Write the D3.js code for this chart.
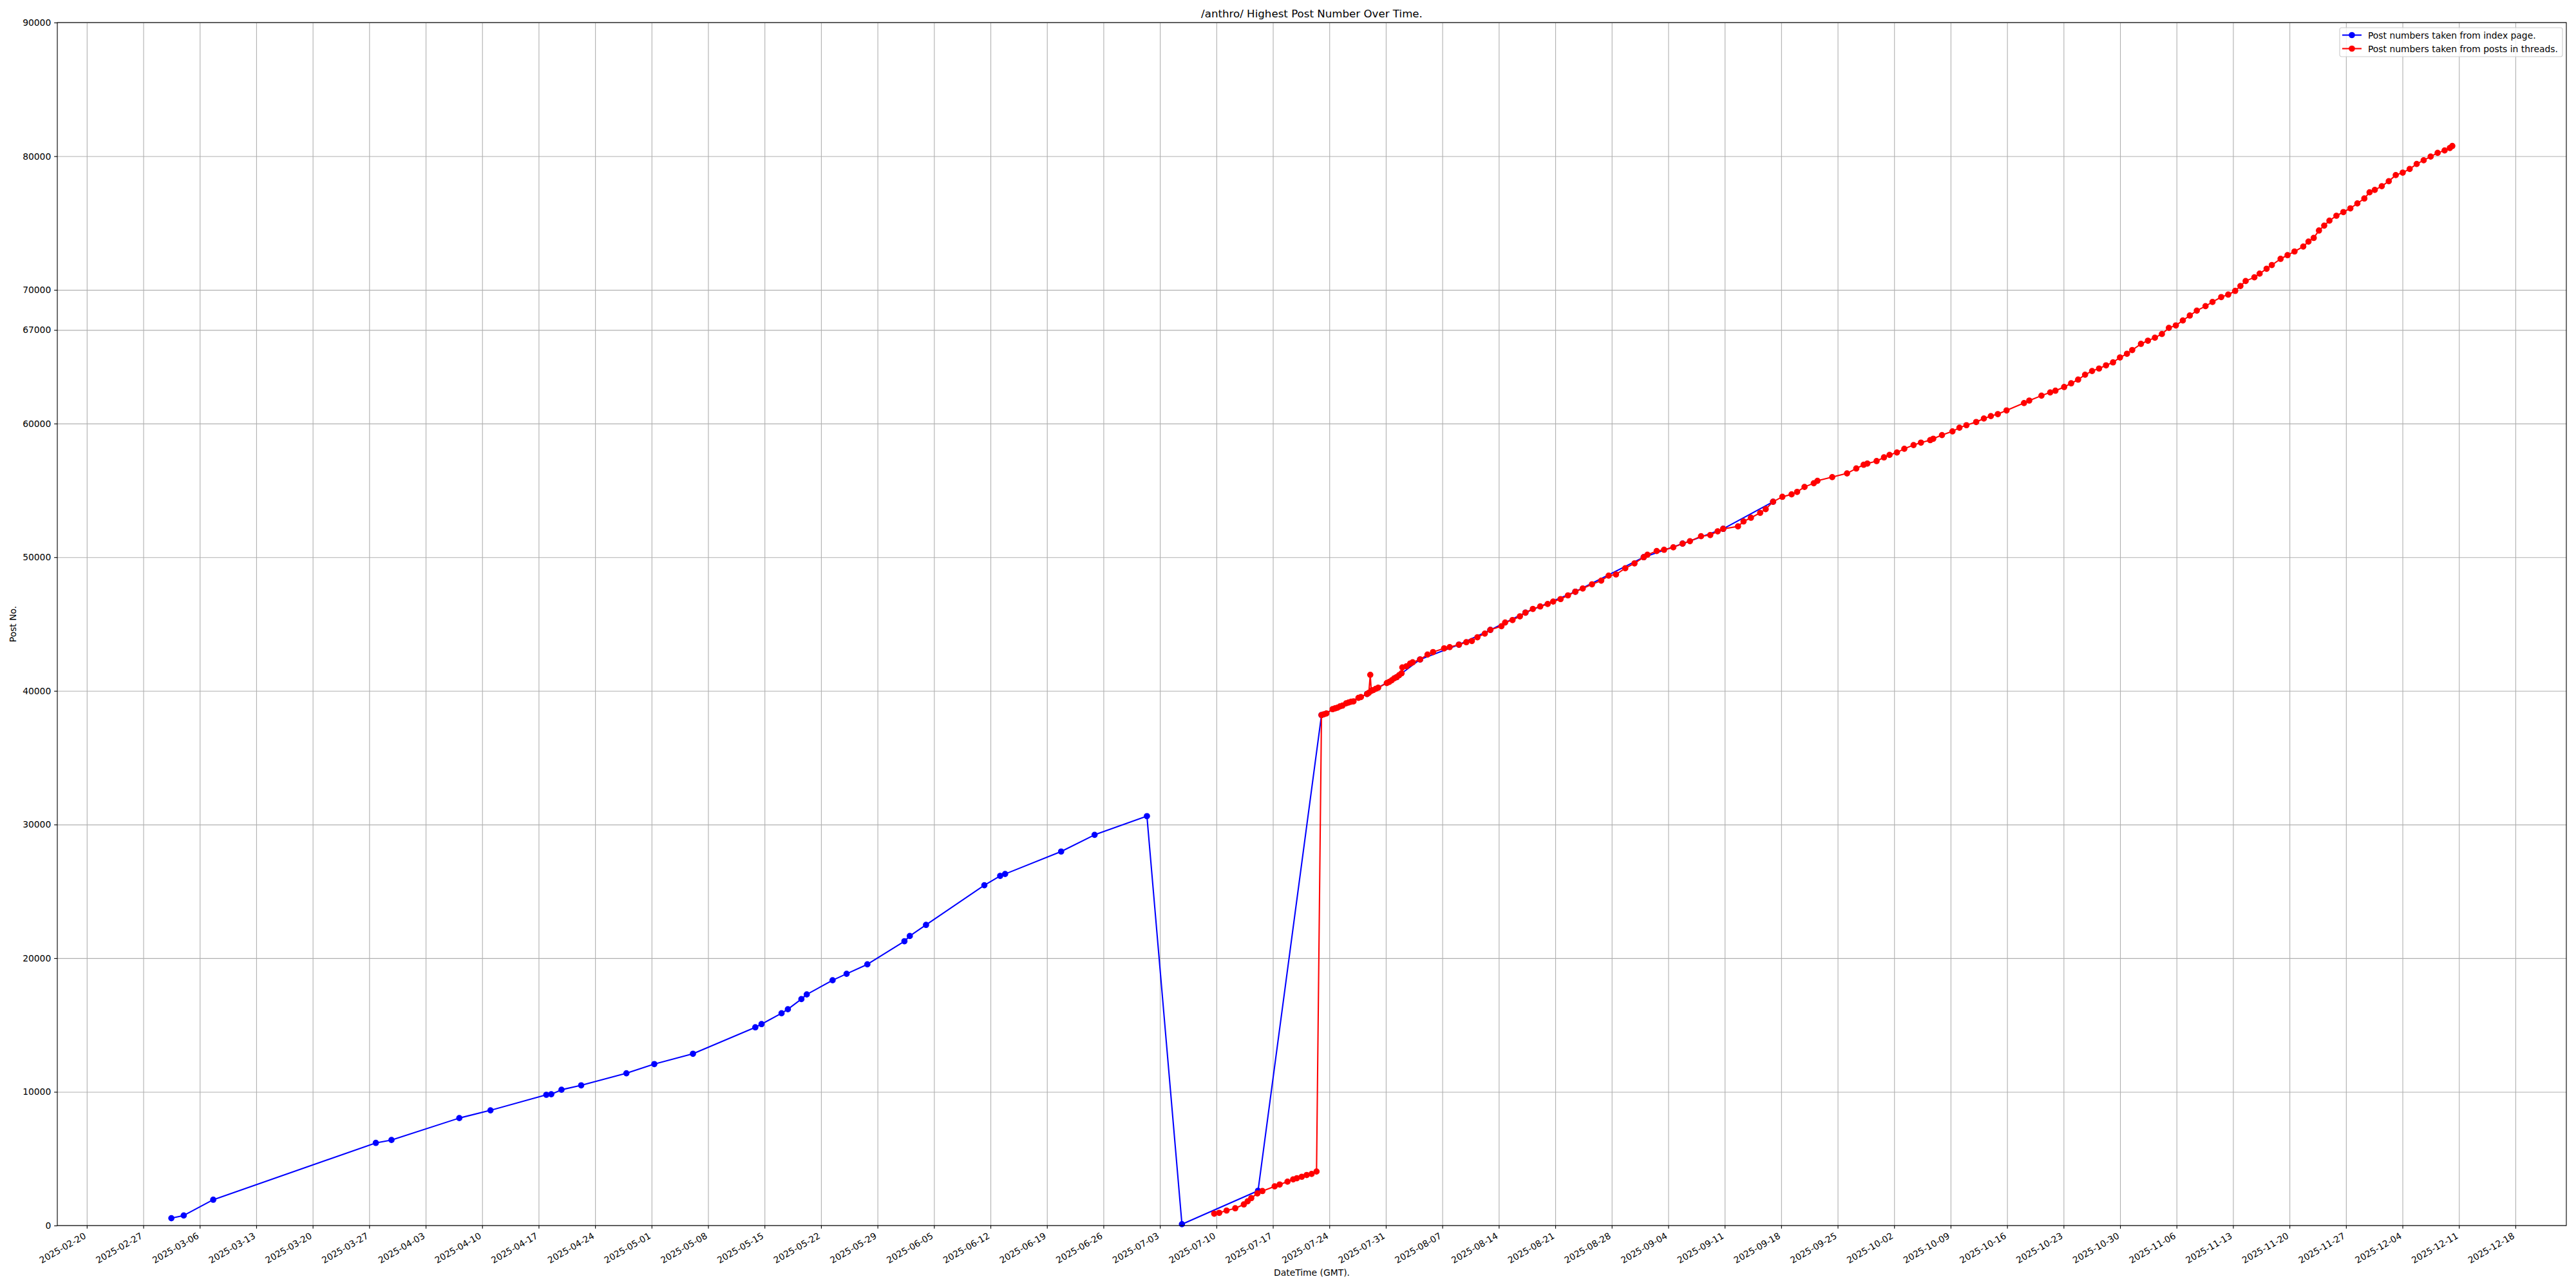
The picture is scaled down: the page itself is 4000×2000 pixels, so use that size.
<!doctype html>
<html lang="en">
  <head>
    <meta charset="utf-8" />
    <title>/anthro/ Highest Post Number Over Time.</title>
    <style>
      body { margin: 0; background: #fff; }
      text { font-family: "DejaVu Sans", sans-serif; fill: #000; }
    </style>
  </head>
  <body>
    <div id="chart"></div>
    <script src="https://cdn.jsdelivr.net/npm/d3@7"></script>
    <script>
// post numbers scraped from the index page
var blueDates = [
  "2025-03-02T11:30", "2025-03-04T00:15", "2025-03-07T16:00", "2025-03-27T19:40", "2025-03-29T18:15",
  "2025-04-07T04:00", "2025-04-11T00:45", "2025-04-17T22:50", "2025-04-18T13:30", "2025-04-19T20:00",
  "2025-04-22T06:30", "2025-04-27T21:00", "2025-05-01T08:00", "2025-05-06T03:00", "2025-05-13T20:30",
  "2025-05-14T15:00", "2025-05-17T02:30", "2025-05-17T21:20", "2025-05-19T13:30", "2025-05-20T05:30",
  "2025-05-23T10:20", "2025-05-25T04:00", "2025-05-27T17:45", "2025-06-01T08:00", "2025-06-02T00:00",
  "2025-06-04T00:15", "2025-06-11T05:45", "2025-06-13T04:50", "2025-06-13T19:30", "2025-06-20T18:10",
  "2025-06-24T21:40", "2025-07-01T09:20", "2025-07-05T17:30", "2025-07-15T03:50", "2025-07-23T00:36",
  "2025-07-28T16:10", "2025-08-01T08:07", "2025-08-04T05:57", "2025-08-09T01:25", "2025-08-12T22:51",
  "2025-08-17T07:18", "2025-08-23T11:43", "2025-08-31T23:07", "2025-09-05T18:33", "2025-09-10T19:29",
  "2025-09-16T23:56"
];
var blueValues = [
  550, 750, 1930, 6180, 6400,
  8040, 8620, 9780, 9820, 10160,
  10490, 11390, 12080, 12850, 14830,
  15070, 15880, 16180, 16940, 17290,
  18350, 18830, 19540, 21270, 21660,
  22490, 25460, 26160, 26300, 27980,
  29230, 30630, 100, 2600, 38193,
  39770, 41025, 42350, 43456, 44563,
  45853, 47420, 50001, 51015, 52121,
  54149
];

// post numbers taken from posts inside threads
var redDates = [
  "2025-07-09T17:30", "2025-07-10T08:25", "2025-07-11T06:15", "2025-07-12T08:00", "2025-07-13T09:35",
  "2025-07-13T20:50", "2025-07-14T07:40", "2025-07-15T01:55", "2025-07-15T16:50", "2025-07-17T05:15",
  "2025-07-17T20:10", "2025-07-18T19:25", "2025-07-19T12:15", "2025-07-19T23:20", "2025-07-20T13:55",
  "2025-07-21T04:35", "2025-07-21T19:10", "2025-07-22T09:50",
  "2025-07-23T00:36", "2025-07-23T07:55", "2025-07-23T15:14", "2025-07-24T09:34", "2025-07-24T16:54",
  "2025-07-25T00:13", "2025-07-25T07:34", "2025-07-25T14:53", "2025-07-26T01:52", "2025-07-26T09:12",
  "2025-07-26T16:32", "2025-07-26T23:51", "2025-07-27T14:31", "2025-07-27T21:50", "2025-07-28T16:10",
  "2025-07-28T21:19", "2025-07-29T01:42", "2025-07-29T04:38", "2025-07-29T10:29", "2025-07-29T17:50",
  "2025-07-30T01:09", "2025-07-31T02:48", "2025-07-31T10:08", "2025-07-31T17:27", "2025-08-01T00:48",
  "2025-08-01T08:07", "2025-08-01T15:27", "2025-08-01T22:47", "2025-08-02T00:58", "2025-08-02T13:26",
  "2025-08-03T00:26", "2025-08-03T07:45",
  "2025-08-04T05:57", "2025-08-05T03:56", "2025-08-05T20:25", "2025-08-07T05:25", "2025-08-07T21:55",
  "2025-08-09T01:25", "2025-08-09T23:20", "2025-08-10T15:53", "2025-08-11T08:23", "2025-08-12T06:22",
  "2025-08-12T22:51", "2025-08-14T07:50", "2025-08-14T18:50", "2025-08-15T16:49", "2025-08-16T14:48",
  "2025-08-17T07:18", "2025-08-18T05:17", "2025-08-19T03:16", "2025-08-20T01:16", "2025-08-20T17:46",
  "2025-08-21T15:45", "2025-08-22T13:44", "2025-08-23T11:43", "2025-08-24T09:43", "2025-08-25T13:12",
  "2025-08-26T16:41", "2025-08-27T14:40", "2025-08-28T12:39", "2025-08-29T16:09", "2025-08-30T19:38",
  "2025-08-31T23:07", "2025-09-01T10:06", "2025-09-02T13:36", "2025-09-03T11:35", "2025-09-04T15:04",
  "2025-09-05T18:33", "2025-09-06T16:32", "2025-09-08T01:32", "2025-09-09T05:01", "2025-09-10T03:00",
  "2025-09-10T19:29", "2025-09-12T15:29", "2025-09-13T07:58", "2025-09-14T05:57", "2025-09-15T09:26",
  "2025-09-16T01:55", "2025-09-16T23:56", "2025-09-18T03:24", "2025-09-19T06:53", "2025-09-19T23:23",
  "2025-09-20T21:22", "2025-09-22T00:50", "2025-09-22T11:50", "2025-09-24T07:49", "2025-09-26T03:48",
  "2025-09-27T07:16", "2025-09-28T05:17", "2025-09-28T16:16", "2025-09-29T19:45", "2025-09-30T17:44",
  "2025-10-01T10:15", "2025-10-02T08:14", "2025-10-03T06:13", "2025-10-04T09:42", "2025-10-05T07:42",
  "2025-10-06T11:11",
  "2025-10-06T20:18", "2025-10-07T22:16", "2025-10-09T05:25", "2025-10-10T02:11", "2025-10-10T22:57",
  "2025-10-12T04:00", "2025-10-13T02:51", "2025-10-13T23:37", "2025-10-14T20:23", "2025-10-15T22:21",
  "2025-10-18T02:15", "2025-10-18T17:50", "2025-10-20T06:10", "2025-10-21T08:07", "2025-10-21T23:41",
  "2025-10-23T01:39", "2025-10-23T22:25", "2025-10-24T19:11", "2025-10-25T15:56", "2025-10-26T12:43",
  "2025-10-27T09:29", "2025-10-28T06:14", "2025-10-29T03:00", "2025-10-29T23:46", "2025-10-30T20:33",
  "2025-10-31T12:07", "2025-11-01T14:04", "2025-11-02T10:49", "2025-11-03T07:35", "2025-11-04T04:22",
  "2025-11-05T01:08", "2025-11-05T21:53", "2025-11-06T18:39", "2025-11-07T15:24", "2025-11-08T12:12",
  "2025-11-09T14:08", "2025-11-10T10:54", "2025-11-11T12:52", "2025-11-12T09:37", "2025-11-13T06:23",
  "2025-11-13T21:58", "2025-11-14T13:32", "2025-11-15T15:30", "2025-11-16T07:03", "2025-11-17T03:50",
  "2025-11-17T19:24", "2025-11-18T21:22", "2025-11-19T18:07", "2025-11-20T14:53", "2025-11-21T16:51",
  "2025-11-22T08:25", "2025-11-23T00:00", "2025-11-23T15:35", "2025-11-24T07:09", "2025-11-24T22:42",
  "2025-11-25T19:29", "2025-11-26T16:15", "2025-11-27T13:00", "2025-11-28T09:46", "2025-11-29T06:32",
  "2025-11-29T22:06", "2025-11-30T13:41", "2025-12-01T10:26", "2025-12-02T07:12", "2025-12-03T03:59",
  "2025-12-04T00:45", "2025-12-04T21:30", "2025-12-05T18:16", "2025-12-06T15:03", "2025-12-07T11:48",
  "2025-12-08T08:34", "2025-12-09T05:20", "2025-12-09T20:54", "2025-12-10T04:11"
];
var redValues = [
  890, 950, 1120, 1290, 1580,
  1810, 2050, 2400, 2580, 2930,
  3070, 3280, 3450, 3540, 3650,
  3780, 3860, 4040,
  38193, 38252, 38310, 38631, 38690,
  38748, 38836, 38894, 39069, 39128,
  39186, 39215, 39478, 39536, 39770,
  39857, 41200, 40003, 40062, 40149,
  40237, 40587, 40675, 40791, 40937,
  41025, 41171, 41317, 41755, 41842,
  42047, 42134,
  42350, 42719, 42903, 43180, 43272,
  43456, 43641, 43733, 44010, 44286,
  44563, 44839, 45116, 45300, 45577,
  45853, 46130, 46314, 46498, 46683,
  46867, 47144, 47420, 47660, 47973,
  48249, 48618, 48710, 49171, 49540,
  50001, 50185, 50462, 50554, 50738,
  51015, 51199, 51568, 51660, 51937,
  52121, 52305, 52674, 52951, 53320,
  53596, 54149, 54518, 54702, 54887,
  55255, 55532, 55716, 55993, 56269,
  56638, 56914, 57007, 57191, 57468,
  57652, 57836, 58113, 58389, 58574,
  58758,
  58861, 59137, 59414, 59690, 59875,
  60115, 60373, 60557, 60705, 60981,
  61534, 61719, 62087, 62327, 62456,
  62732, 63009, 63285, 63654, 63930,
  64115, 64354, 64576, 64945, 65221,
  65498, 65959, 66198, 66420, 66696,
  67157, 67341, 67710, 68079, 68448,
  68780, 69093, 69462, 69646, 69923,
  70291, 70660, 70937, 71213, 71582,
  71858, 72319, 72596, 72872, 73241,
  73610, 73886, 74439, 74808, 75177,
  75546, 75822, 76099, 76467, 76836,
  77297, 77482, 77758, 78127, 78587,
  78772, 79048, 79417, 79694, 79970,
  80247, 80431, 80615, 80763
];

var yTicks = [0, 10000, 20000, 30000, 40000, 50000, 60000, 67000, 70000, 80000, 90000];

var chartTitle = "/anthro/ Highest Post Number Over Time.";
var xLabel = "DateTime (GMT).";
var yLabel = "Post No.";
var legendLabels = ["Post numbers taken from index page.", "Post numbers taken from posts in threads."];

// figure is 40x20 in at 100 dpi, so 1pt = 100/72 px
var pt = 100 / 72;
var W = 4000, H = 2000;
var margin = {top: 35, right: 15, bottom: 97, left: 89};
var width = W - margin.left - margin.right,
    height = H - margin.top - margin.bottom;

var parse = d3.utcParse("%Y-%m-%dT%H:%M");
var blue = blueDates.map(function(d, i){ return {date: parse(d), value: blueValues[i]}; });
var red = redDates.map(function(d, i){ return {date: parse(d), value: redValues[i]}; });

// matplotlib style 5% padding on the time axis
var ext = d3.extent(blue.concat(red), function(d){ return d.date; });
var span = ext[1] - ext[0];
var x = d3.scaleUtc()
  .domain([new Date(+ext[0] - span * 0.05), new Date(+ext[1] + span * 0.05)])
  .range([0, width]);
var y = d3.scaleLinear()
  .domain([0, 90000])
  .range([height, 0]);

var svg = d3.select("#chart")
  .append("svg")
    .attr("width", W)
    .attr("height", H);
svg.append("rect").attr("width", W).attr("height", H).attr("fill", "#fff");

var g = svg.append("g")
  .attr("transform", "translate(" + margin.left + "," + margin.top + ")");

var weekly = d3.utcThursday.every(1);

// grid
g.append("g")
  .attr("transform", "translate(0," + height + ")")
  .call(d3.axisBottom(x).ticks(weekly).tickSize(-height).tickFormat(""))
  .call(function(s){ s.select(".domain").remove(); })
  .selectAll("line")
    .attr("stroke", "#b0b0b0")
    .attr("stroke-width", 0.8 * pt);
g.append("g")
  .call(d3.axisLeft(y).tickValues(yTicks).tickSize(-width).tickFormat(""))
  .call(function(s){ s.select(".domain").remove(); })
  .selectAll("line")
    .attr("stroke", "#b0b0b0")
    .attr("stroke-width", 0.8 * pt);

// series
var line = d3.line()
  .x(function(d){ return x(d.date); })
  .y(function(d){ return y(d.value); });

function series(data, color) {
  g.append("path")
    .datum(data)
    .attr("fill", "none")
    .attr("stroke", color)
    .attr("stroke-width", 1.5 * pt)
    .attr("stroke-linejoin", "round")
    .attr("d", line);
  g.append("g")
    .selectAll("circle")
    .data(data)
    .enter()
    .append("circle")
      .attr("cx", function(d){ return x(d.date); })
      .attr("cy", function(d){ return y(d.value); })
      .attr("r", 3 * pt)
      .attr("fill", color)
      .attr("stroke", color)
      .attr("stroke-width", 1 * pt);
}
series(blue, "#0000ff");
series(red, "#ff0000");

// axes
var xAxis = g.append("g")
  .attr("transform", "translate(0," + height + ")")
  .call(d3.axisBottom(x).ticks(weekly).tickSize(3.5 * pt).tickPadding(0).tickFormat(d3.utcFormat("%Y-%m-%d")));
xAxis.select(".domain").remove();
xAxis.selectAll("line").attr("stroke", "#000").attr("stroke-width", 0.8 * pt);
xAxis.selectAll("text")
  .attr("font-size", 10 * pt)
  .attr("text-anchor", "end")
  .attr("y", 0)
  .attr("dy", "0.76em")
  .attr("transform", "translate(-6," + (7 * pt) + ") rotate(-30)");

var yAxis = g.append("g")
  .call(d3.axisLeft(y).tickValues(yTicks).tickSize(3.5 * pt).tickPadding(3.5 * pt).tickFormat(d3.format("d")));
yAxis.select(".domain").remove();
yAxis.selectAll("line").attr("stroke", "#000").attr("stroke-width", 0.8 * pt);
yAxis.selectAll("text").attr("font-size", 10 * pt);

g.selectAll(".tick text").attr("fill", "#000").attr("font-family", "DejaVu Sans");

// spines
g.append("rect")
  .attr("width", width)
  .attr("height", height)
  .attr("fill", "none")
  .attr("stroke", "#000")
  .attr("stroke-width", 0.8 * pt);

// labels
svg.append("text")
  .attr("x", margin.left + width / 2)
  .attr("y", 27)
  .attr("text-anchor", "middle")
  .attr("font-size", 12 * pt)
  .text(chartTitle);
svg.append("text")
  .attr("x", margin.left + width / 2)
  .attr("y", 1981)
  .attr("text-anchor", "middle")
  .attr("font-size", 10 * pt)
  .text(xLabel);
svg.append("text")
  .attr("transform", "translate(25," + (margin.top + height / 2) + ") rotate(-90)")
  .attr("text-anchor", "middle")
  .attr("font-size", 10 * pt)
  .text(yLabel);

// legend, upper right
var legend = svg.append("g")
  .attr("transform", "translate(" + (margin.left + width - 352) + "," + (margin.top + 8) + ")");
legend.append("rect")
  .attr("width", 346)
  .attr("height", 45)
  .attr("rx", 3)
  .attr("fill", "#fff")
  .attr("fill-opacity", 0.8)
  .attr("stroke", "#cccccc")
  .attr("stroke-width", 0.8 * pt);
var colors = ["#0000ff", "#ff0000"];
legendLabels.forEach(function(label, i) {
  var ly = 11.5 + i * 21;
  legend.append("line")
    .attr("x1", 4).attr("x2", 34)
    .attr("y1", ly).attr("y2", ly)
    .attr("stroke", colors[i])
    .attr("stroke-width", 1.5 * pt);
  legend.append("circle")
    .attr("cx", 19).attr("cy", ly)
    .attr("r", 3 * pt)
    .attr("fill", colors[i])
    .attr("stroke", colors[i])
    .attr("stroke-width", 1 * pt);
  legend.append("text")
    .attr("x", 44)
    .attr("y", ly)
    .attr("dy", "0.36em")
    .attr("font-size", 10 * pt)
    .text(label);
});
    </script>
  </body>
</html>
